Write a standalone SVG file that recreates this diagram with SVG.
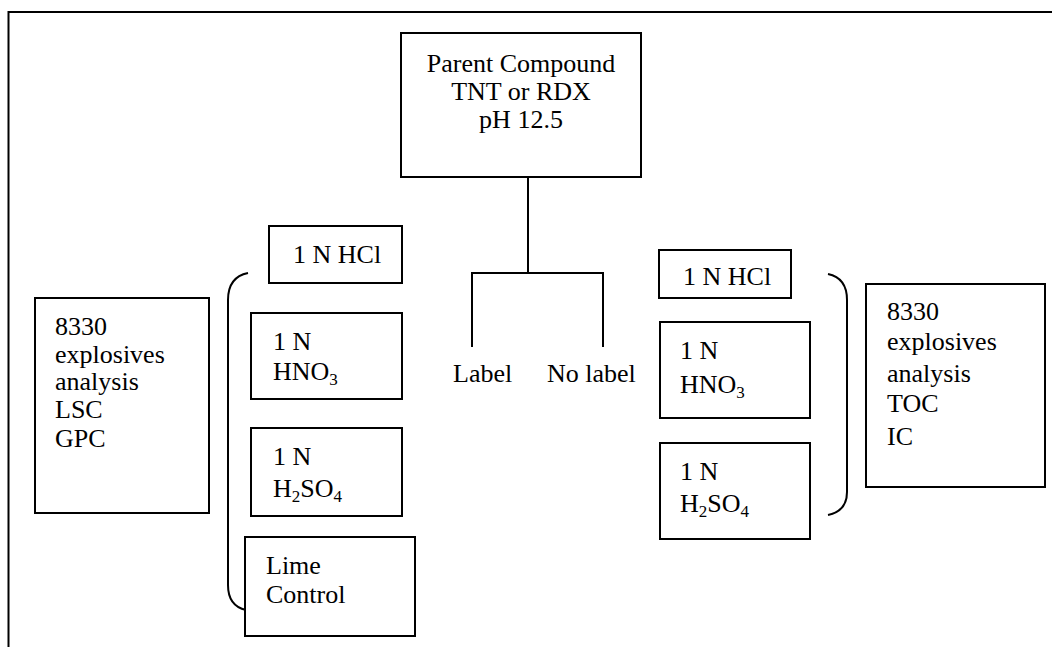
<svg xmlns="http://www.w3.org/2000/svg" width="1052" height="647" viewBox="0 0 1052 647">
<style>
.box{fill:#fff;stroke:#000;stroke-width:2}
.ln{fill:none;stroke:#000;stroke-width:2}
text{font-family:"Liberation Serif","Times New Roman",serif;font-size:26px;fill:#000}
.c{text-anchor:middle}
.sub{font-size:17px}
</style>
<rect width="1052" height="647" fill="#fff"/>
<path class="ln" d="M8.5 660 V12 H1060" stroke-width="3"/>
<g id="connectors">
<path class="ln" d="M528 177 V273 M472 347 V273 H603 V347"/>
<path class="ln" d="M248 273 Q228 277 228 300 V585 Q228 606 246 610"/>
<path class="ln" d="M828 274 Q847 278 847 300 V492 Q847 511 828 515"/>
</g>
<g id="parent">
<rect class="box" x="401" y="33" width="240" height="144"/>
<text class="c" x="521" y="72">Parent Compound</text>
<text class="c" x="521" y="100">TNT or RDX</text>
<text class="c" x="521" y="128">pH 12.5</text>
</g>
<g id="label"><text x="453" y="382">Label</text></g>
<g id="nolabel"><text x="547" y="382">No label</text></g>
<g id="left-analysis">
<rect class="box" x="35" y="298" width="174" height="215"/>
<text x="55" y="335">8330</text>
<text x="55" y="363">explosives</text>
<text x="55" y="390">analysis</text>
<text x="55" y="418">LSC</text>
<text x="55" y="447">GPC</text>
</g>
<g id="left-hcl">
<rect class="box" x="269" y="226" width="133" height="57"/>
<text x="293" y="263">1 N HCl</text>
</g>
<g id="left-hno3">
<rect class="box" x="251" y="313" width="151" height="86"/>
<text x="273" y="350">1 N</text>
<text x="273" y="380">HNO<tspan class="sub" dy="5">3</tspan></text>
</g>
<g id="left-h2so4">
<rect class="box" x="251" y="428" width="151" height="88"/>
<text x="273" y="465">1 N</text>
<text x="273" y="497">H<tspan class="sub" dy="5">2</tspan><tspan dy="-5">SO</tspan><tspan class="sub" dy="5">4</tspan></text>
</g>
<g id="lime-control">
<rect class="box" x="245" y="537" width="170" height="99"/>
<text x="266" y="574">Lime</text>
<text x="266" y="603">Control</text>
</g>
<g id="right-hcl">
<rect class="box" x="659" y="250" width="132" height="48"/>
<text x="683" y="285">1 N HCl</text>
</g>
<g id="right-hno3">
<rect class="box" x="660" y="322" width="150" height="96"/>
<text x="680" y="359">1 N</text>
<text x="680" y="393">HNO<tspan class="sub" dy="5">3</tspan></text>
</g>
<g id="right-h2so4">
<rect class="box" x="660" y="443" width="150" height="96"/>
<text x="680" y="480">1 N</text>
<text x="680" y="512">H<tspan class="sub" dy="5">2</tspan><tspan dy="-5">SO</tspan><tspan class="sub" dy="5">4</tspan></text>
</g>
<g id="right-analysis">
<rect class="box" x="866" y="284" width="179" height="203"/>
<text x="887" y="320">8330</text>
<text x="887" y="350">explosives</text>
<text x="887" y="382">analysis</text>
<text x="887" y="412">TOC</text>
<text x="887" y="445">IC</text>
</g>
</svg>
